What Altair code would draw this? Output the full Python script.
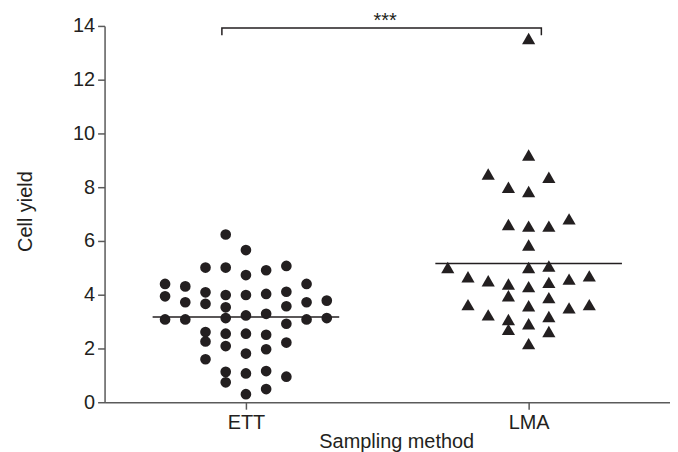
import altair as alt
import pandas as pd

groups = ["ETT", "LMA"]

# ETT: (column index within beeswarm, cell yield)
ett_cols = [-1, 0, -2, -1, 0, 1, 2, -4, -3, 3, -4, -2, -1, 0, 1, 2, -3, -2, 3, 4,
            -1, 2, 0, 1, -4, -3, -1, 3, 4, 2, -2, -1, 0, 1, -2, -1, 2, 0, 1, -2,
            -1, 0, 1, 2, -1, 1, 0]
ett_vals = [6.24, 5.66, 5.01, 5.01, 4.73, 4.91, 5.07, 4.40, 4.31, 4.40, 3.94, 4.09,
            3.99, 3.99, 4.03, 4.11, 3.72, 3.66, 3.72, 3.78, 3.53, 3.57, 3.23, 3.29,
            3.08, 3.08, 3.13, 3.08, 3.13, 2.92, 2.61, 2.55, 2.55, 2.51, 2.26, 2.09,
            2.22, 1.81, 1.97, 1.60, 1.13, 1.07, 1.16, 0.95, 0.74, 0.49, 0.30]

lma_cols = [0, 0, -2, 1, -1, 0, 2, -1, 0, 1, 0, -4, 0, 1, -3, -2, -1, 0, 1, 2, 3,
            -1, 1, -3, 0, 2, 3, -2, -1, 1, 0, -1, 1, 0]
lma_vals = [13.53, 9.20, 8.49, 8.37, 8.00, 7.84, 6.82, 6.61, 6.55, 6.55, 5.85, 5.01,
            5.01, 5.07, 4.67, 4.52, 4.40, 4.30, 4.46, 4.58, 4.70, 3.96, 3.89, 3.63,
            3.59, 3.51, 3.63, 3.25, 3.08, 3.19, 2.92, 2.71, 2.63, 2.18]

medians = [3.17, 5.16]

bracket_x = [0.915, 0.915, 2.045, 2.045]
bracket_y = [13.65, 13.92, 13.92, 13.65]
sig_label = "***"

pts = pd.DataFrame({
    "group": ["ETT"] * len(ett_vals) + ["LMA"] * len(lma_vals),
    "gidx": [1] * len(ett_vals) + [2] * len(lma_vals),
    "col": ett_cols + lma_cols,
    "value": ett_vals + lma_vals,
})
med = pd.DataFrame({"group": groups, "gidx": [1, 2], "median": medians})
br = pd.DataFrame({"bx": bracket_x, "by": bracket_y, "order": [0, 1, 2, 3]})
sig = pd.DataFrame({"label": [sig_label], "sx": [1.492], "sy": [14.29]})

ink = "#231f20"
axis_col = "#5a5a5a"
font = "Liberation Sans"

label_expr = "datum.value == 1 ? '%s' : (datum.value == 2 ? '%s' : '')" % (groups[0], groups[1])

xscale = alt.Scale(domain=[0.5, 2.5], nice=False, zero=False)
yscale = alt.Scale(domain=[0, 14], nice=False, zero=True)

xaxis = alt.Axis(values=[1, 2], labelExpr=label_expr, grid=False, title="Sampling method",
                 tickSize=7, labelPadding=3, titlePadding=-1, titleX=293)
yaxis = alt.Axis(values=list(range(0, 15, 2)), grid=False, title="Cell yield",
                 tickSize=7, labelPadding=3, titlePadding=37, titleY=186)

points = alt.Chart(pts).transform_calculate(
    xpos="datum.gidx + datum.col * 0.0715"
).mark_point(filled=True, opacity=1, color=ink).encode(
    x=alt.X("xpos:Q", scale=xscale, axis=xaxis),
    y=alt.Y("value:Q", scale=yscale, axis=yaxis),
    shape=alt.Shape("group:N", scale=alt.Scale(domain=groups, range=["circle", "triangle-up"]), legend=None),
    size=alt.Size("group:N", scale=alt.Scale(domain=groups, range=[115, 175]), legend=None),
)

med_rules = alt.Chart(med).transform_calculate(
    x1="datum.gidx - 0.33", x2="datum.gidx + 0.33"
).mark_rule(color=ink, strokeWidth=1.5).encode(
    x=alt.X("x1:Q", scale=xscale),
    x2="x2:Q",
    y=alt.Y("median:Q", scale=yscale),
)

bracket = alt.Chart(br).mark_line(color=ink, strokeWidth=1.5, clip=False).encode(
    x=alt.X("bx:Q", scale=xscale),
    y=alt.Y("by:Q", scale=yscale),
    order="order:Q",
)

sig_text = alt.Chart(sig).mark_text(font=font, fontSize=20, color=ink, clip=False,
                                    baseline="middle", dy=3).encode(
    x=alt.X("sx:Q", scale=xscale),
    y=alt.Y("sy:Q", scale=yscale),
    text="label:N",
)

chart = alt.layer(points, med_rules, bracket, sig_text).properties(
    width=568, height=378,
    autosize=alt.AutoSizeParams(type="none"),
    padding={"left": 97, "top": 17, "right": 0, "bottom": 50},
).configure_view(stroke=None).configure_axis(
    labelFont=font, titleFont=font, labelFontSize=20, titleFontSize=20,
    labelColor=ink, titleColor=ink, titleFontWeight="normal",
    domainColor=axis_col, tickColor=axis_col, domainWidth=1.5, tickWidth=1.5,
)

chart.save("out.html", embed_options={"renderer": "svg", "actions": False})
